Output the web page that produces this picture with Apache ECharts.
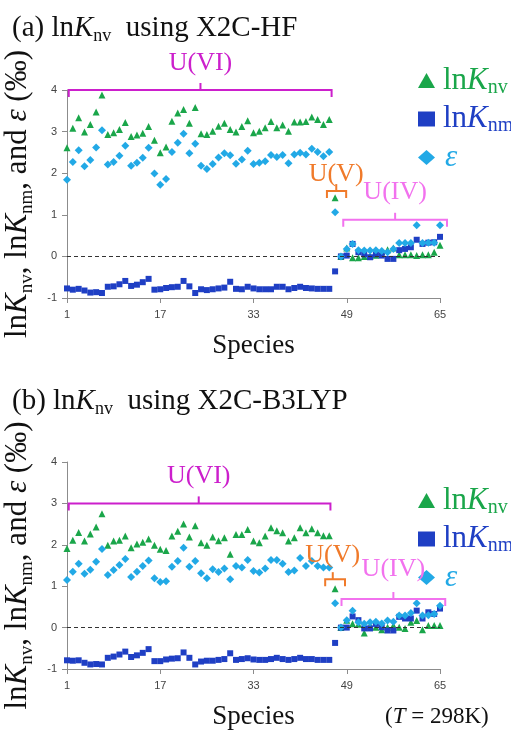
<!DOCTYPE html>
<html><head><meta charset="utf-8">
<script src="https://cdn.jsdelivr.net/npm/echarts@6/dist/echarts.min.js"></script>
<style>html,body{margin:0;padding:0;background:#fff}#c{width:511px;height:732px}</style>
</head><body><div id="c"></div>
<script>
// Species 1..65
const species = Array.from({length: 65}, (_, i) => i + 1);
const xTickLabels = ['1', '17', '33', '49', '65'];
const yTickLabels = ['-1', '0', '1', '2', '3', '4'];

// (a) X2C-HF
const nvA = [2.61,3.08,3.33,2.99,3.17,3.47,3.88,2.93,2.97,3.05,3.22,2.88,2.92,2.96,3.12,2.79,2.49,2.63,3.25,3.45,3.53,3.20,3.58,2.95,2.93,3.01,3.13,3.20,3.05,2.99,3.12,3.26,2.97,3.01,3.09,3.24,3.09,3.16,3.01,3.23,3.23,3.24,3.35,3.29,3.17,3.29,1.41,0.00,0.20,-0.03,-0.03,0.00,0.00,0.03,0.12,0.16,0.20,0.04,0.04,0.04,0.02,0.04,0.04,0.10,0.27];
const nmA = [-0.77,-0.80,-0.78,-0.82,-0.87,-0.86,-0.88,-0.73,-0.72,-0.67,-0.59,-0.71,-0.68,-0.62,-0.54,-0.80,-0.79,-0.76,-0.74,-0.73,-0.59,-0.72,-0.88,-0.79,-0.81,-0.79,-0.77,-0.75,-0.61,-0.78,-0.79,-0.73,-0.77,-0.79,-0.79,-0.79,-0.73,-0.73,-0.79,-0.76,-0.73,-0.76,-0.77,-0.78,-0.78,-0.78,-0.36,0.00,0.02,0.30,0.10,0.05,-0.02,0.05,0.02,-0.06,-0.06,0.15,0.18,0.22,0.40,0.30,0.33,0.34,0.47];
const epsA = [1.84,2.27,2.55,2.17,2.32,2.62,3.03,2.21,2.27,2.42,2.66,2.18,2.25,2.37,2.61,1.99,1.72,1.86,2.51,2.73,2.95,2.48,2.71,2.18,2.10,2.22,2.38,2.48,2.43,2.23,2.33,2.54,2.22,2.25,2.29,2.44,2.39,2.44,2.24,2.45,2.49,2.45,2.59,2.51,2.41,2.51,1.06,0.00,0.18,0.30,0.15,0.14,0.14,0.15,0.13,0.10,0.18,0.32,0.32,0.32,0.75,0.32,0.33,0.33,0.75];

// (b) X2C-B3LYP
const nvB = [1.91,2.11,2.30,2.09,2.26,2.43,2.75,1.99,2.09,2.11,2.21,1.93,2.02,2.06,2.14,1.99,1.89,1.86,2.21,2.33,2.50,2.19,2.46,2.05,1.99,2.19,2.10,2.17,1.77,2.25,2.25,2.37,2.09,2.05,2.21,2.41,2.34,2.29,2.09,2.17,2.41,2.29,2.39,2.29,2.22,2.22,0.94,0.00,0.18,0.09,0.08,-0.13,0.05,0.01,-0.05,0.01,0.05,0.01,-0.02,0.13,0.17,-0.05,0.05,0.05,0.05];
const nmB = [-0.79,-0.80,-0.79,-0.85,-0.89,-0.88,-0.89,-0.73,-0.70,-0.65,-0.58,-0.71,-0.67,-0.61,-0.52,-0.81,-0.81,-0.77,-0.75,-0.74,-0.60,-0.73,-0.89,-0.82,-0.80,-0.80,-0.78,-0.76,-0.62,-0.78,-0.76,-0.74,-0.77,-0.78,-0.78,-0.76,-0.73,-0.76,-0.78,-0.76,-0.73,-0.76,-0.76,-0.78,-0.78,-0.78,-0.37,0.00,0.00,0.27,0.18,-0.02,-0.02,0.09,0.01,-0.07,-0.07,0.26,0.22,0.22,0.41,0.22,0.37,0.33,0.46];
const epsB = [1.15,1.35,1.54,1.30,1.40,1.59,1.90,1.27,1.39,1.51,1.66,1.22,1.35,1.49,1.62,1.19,1.10,1.12,1.47,1.61,1.93,1.47,1.61,1.31,1.19,1.41,1.34,1.43,1.17,1.49,1.45,1.63,1.37,1.33,1.43,1.63,1.63,1.54,1.34,1.38,1.68,1.49,1.61,1.49,1.45,1.45,0.59,0.00,0.18,0.41,0.13,0.09,0.13,0.14,0.10,0.17,0.14,0.29,0.29,0.35,0.59,0.29,0.30,0.33,0.53];

// Oxidation-state groups: [startSpecies, endSpecies, level, midSpecies]
const groupNames = ['U(VI)', 'U(V)', 'U(IV)'];
const groupsA = [[1.3, 46.4, 4.0, 23.9], [45.6, 48.9, 1.57, 47.2], [48.4, 66.2, 0.88, 57.3]];
const groupsB = [[1.3, 46.2, 3.0, 23.6], [45.3, 48.7, 1.17, 46.6], [48.1, 65.9, 0.69, 57.0]];

const SERIF = 'Liberation Serif';
const C_NV = '#1aa64a', C_NM = '#1f3fc4', C_EPS = '#22a9e6';
const GROUP_COLORS = ['#cc1fcc', '#f07a2a', '#f272ee'];
const LABEL_OFF = [[27, 27], [17, 24], [28, 30]];

const pts = arr => arr.map((v, i) => [species[i] - 1, v]);

function grid(top, h) { return {left: 67, right: 71, top: top, height: h, outerBoundsMode: 'none', containLabel: false}; }

function xAxis(gi) {
  return {
    type: 'value', gridIndex: gi, min: 0, max: 64, interval: 16,
    name: 'Species', nameLocation: 'middle', nameGap: 34,
    nameTextStyle: {fontFamily: SERIF, fontSize: 27, color: '#111'},
    axisLine: {onZero: false, lineStyle: {color: '#8c8c8c', width: 1}},
    axisTick: {show: true, length: 5, lineStyle: {color: '#8c8c8c'}},
    axisLabel: {color: '#444', fontSize: 11, fontFamily: 'Liberation Sans', margin: 11,
      formatter: v => xTickLabels[Math.round(v / 16)]},
    splitLine: {show: false}
  };
}
function yAxis(gi) {
  return {
    type: 'value', gridIndex: gi, min: -1, max: 4, interval: 1,
    name: '{r|ln}{i|K}{s|nv}{r|, ln}{i|K}{s|nm}{r|, and }{i|ε}{r| (‰)}',
    nameLocation: 'middle', nameGap: 23, nameRotate: 90,
    nameTextStyle: {fontFamily: SERIF, fontSize: 31, color: '#111', rich: {
      r: {fontFamily: SERIF, fontSize: 31, color: '#111', lineHeight: 36},
      i: {fontFamily: SERIF, fontSize: 31, fontStyle: 'italic', color: '#111', lineHeight: 36},
      s: {fontFamily: SERIF, fontSize: 19, color: '#111', lineHeight: 19, verticalAlign: 'bottom'}
    }},
    axisLine: {show: true, lineStyle: {color: '#8c8c8c', width: 1}},
    axisTick: {show: true, length: 5, lineStyle: {color: '#8c8c8c'}},
    axisLabel: {color: '#444', fontSize: 11, fontFamily: 'Liberation Sans', margin: 10,
      formatter: v => yTickLabels[Math.round(v) + 1]},
    splitLine: {show: false}
  };
}

function scatter(name, data, gi, symbol, size, color, withZero) {
  const s = {
    name: name, type: 'scatter', xAxisIndex: gi, yAxisIndex: gi, data: pts(data),
    symbol: symbol, symbolSize: size, itemStyle: {color: color, opacity: 1}, z: 3
  };
  if (withZero) {
    s.markLine = {silent: true, symbol: 'none', label: {show: false},
      lineStyle: {color: '#333', type: [4, 3], width: 1}, data: [{yAxis: 0}]};
  }
  return s;
}

function brackets(groups, gi, panel) {
  return {
    type: 'custom', xAxisIndex: gi, yAxisIndex: gi, z: 5, silent: true,
    data: groups.map(g => [g[0] - 1, g[1] - 1, g[2], g[3] - 1]),
    encode: {x: [0, 1, 3], y: 2},
    clip: false,
    renderItem: function (params, api) {
      const idx = params.dataIndex;
      const p1 = api.coord([api.value(0), api.value(2)]);
      const p2 = api.coord([api.value(1), api.value(2)]);
      const pm = api.coord([api.value(3), api.value(2)]);
      const col = GROUP_COLORS[idx];
      const hook = 7;
      return {type: 'group', children: [
        {type: 'polyline', shape: {points: [[p1[0], p1[1] + hook], [p1[0], p1[1]], [p2[0], p2[1]], [p2[0], p2[1] + hook]]},
          style: {stroke: col, lineWidth: 2, fill: null}},
        {type: 'line', shape: {x1: pm[0], y1: pm[1], x2: pm[0], y2: pm[1] - hook},
          style: {stroke: col, lineWidth: 2}},
        {type: 'text', x: pm[0], y: pm[1] - LABEL_OFF[idx][panel],
          style: {text: groupNames[idx], fill: col, font: '26px "Liberation Serif"', align: 'center', verticalAlign: 'middle'}}
      ]};
    }
  };
}

const legendRich = {
  r: {fontFamily: SERIF, fontSize: 31, lineHeight: 34, padding: [0, 0, 0, 3]},
  i: {fontFamily: SERIF, fontSize: 31, fontStyle: 'italic', lineHeight: 34},
  s: {fontFamily: SERIF, fontSize: 20, lineHeight: 18, verticalAlign: 'bottom'}
};
function legendRichColored() {
  const out = {};
  [['nv', C_NV], ['nm', C_NM], ['e', C_EPS]].forEach(([k, c]) => {
    out[k + 'r'] = Object.assign({}, legendRich.r, {color: c});
    out[k + 'i'] = Object.assign({}, legendRich.i, {color: c});
    out[k + 's'] = Object.assign({}, legendRich.s, {color: c});
  });
  out.ei = Object.assign({}, legendRich.i, {color: C_EPS, padding: [0, 0, 0, 5]});
  return out;
}
function legend(top) {
  return {
    data: ['nv', 'nm', 'eps'], orient: 'vertical', left: 413, top: top,
    itemWidth: 17, itemHeight: 15, itemGap: 6, selectedMode: false,
    formatter: n => n === 'nv' ? '{nvr|ln}{nvi|K}{nvs|nv}' : n === 'nm' ? '{nmr|ln}{nmi|K}{nms|nm}' : '{ei|ε}',
    textStyle: {rich: legendRichColored()}
  };
}

function title(prefix, method, top) {
  return {
    text: '{r|' + prefix + ' ln}{i|K}{s|nv}{r|  using ' + method + '}',
    left: 12, top: top, padding: 0,
    textStyle: {fontWeight: 'normal', rich: {
      r: {fontFamily: SERIF, fontSize: 29, fontWeight: 'normal', color: '#111', lineHeight: 34},
      i: {fontFamily: SERIF, fontSize: 29, fontWeight: 'normal', fontStyle: 'italic', color: '#111', lineHeight: 34},
      s: {fontFamily: SERIF, fontSize: 18, fontWeight: 'normal', color: '#111', lineHeight: 17, verticalAlign: 'bottom'}
    }}
  };
}

const chart = echarts.init(document.getElementById('c'), null, {renderer: 'canvas'});
chart.setOption({
  animation: false,
  backgroundColor: '#fff',
  title: [
    title('(a)', 'X2C-HF', 11),
    title('(b)', 'X2C-B3LYP', 384),
    {text: '{r|(}{i|T}{r| = 298K)}', left: 385, top: 705, padding: 0,
      textStyle: {fontWeight: 'normal', rich: {
        r: {fontFamily: SERIF, fontSize: 23, fontWeight: 'normal', color: '#111'},
        i: {fontFamily: SERIF, fontSize: 23, fontWeight: 'normal', fontStyle: 'italic', color: '#111'}
      }}}
  ],
  legend: [legend(60), legend(480)],
  grid: [grid(90, 208), grid(462, 207)],
  xAxis: [xAxis(0), xAxis(1)],
  yAxis: [yAxis(0), yAxis(1)],
  series: [
    scatter('nv', nvA, 0, 'triangle', 7, C_NV, true),
    scatter('nm', nmA, 0, 'rect', 6, C_NM, false),
    scatter('eps', epsA, 0, 'diamond', 8, C_EPS, false),
    brackets(groupsA, 0, 0),
    scatter('nv', nvB, 1, 'triangle', 7, C_NV, true),
    scatter('nm', nmB, 1, 'rect', 6, C_NM, false),
    scatter('eps', epsB, 1, 'diamond', 8, C_EPS, false),
    brackets(groupsB, 1, 1)
  ]
});
</script></body></html>
